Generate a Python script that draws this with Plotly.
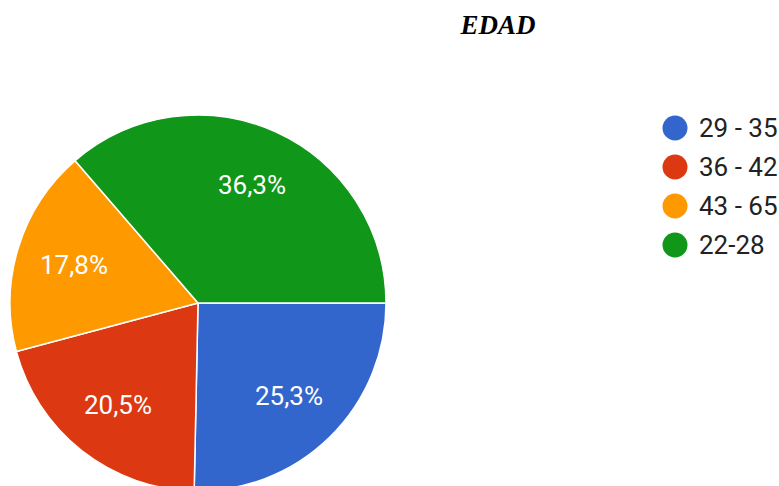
import math
import plotly.graph_objects as go

categories = ["29 - 35", "36 - 42", "43 - 65", "22-28"]
values = [25.3, 20.5, 17.8, 36.3]
colors = ["#3366CC", "#DC3912", "#FF9900", "#109618"]

W, H = 779, 492
cx, cy, r = 198, 303, 188

fig = go.Figure()
fig.add_trace(go.Pie(
    labels=categories, values=values, sort=False, direction="clockwise", rotation=90,
    marker=dict(colors=colors, line=dict(color="white", width=1.5)),
    textinfo="none", showlegend=False, hoverinfo="label+percent",
    domain=dict(x=[(cx - r) / W, (cx + r) / W], y=[(H - cy - r) / H, (H - cy + r) / H]),
))

# percentage labels at ~0.7 r along each slice's mid angle (clockwise from 3 o'clock)
total = sum(values)
cum = 0.0
for v in values:
    mid = (cum + v / 2) / total * 2 * math.pi
    cum += v
    px = cx + 0.69 * r * math.cos(mid)
    py = cy + 0.69 * r * math.sin(mid)
    fig.add_annotation(text=f"{v / total * 100:.1f}%".replace(".", ","), xref="paper", yref="paper",
                       x=px / W, y=1 - py / H, xanchor="center", yanchor="middle", showarrow=False,
                       font=dict(family="Roboto, Arial, sans-serif", size=26, color="white"))

# legend drawn as circles + labels
leg_x, leg_y0, leg_dy, dot_r = 675, 128, 39, 12.5
for i, (c, col) in enumerate(zip(categories, colors)):
    yc = leg_y0 + i * leg_dy
    fig.add_shape(type="circle", xref="paper", yref="paper",
                  x0=(leg_x - dot_r) / W, x1=(leg_x + dot_r) / W,
                  y0=1 - (yc + dot_r) / H, y1=1 - (yc - dot_r) / H,
                  fillcolor=col, line=dict(width=0))
    fig.add_annotation(text=c, xref="paper", yref="paper", x=(leg_x + 22) / W, y=1 - yc / H,
                       xanchor="left", yanchor="middle", showarrow=False,
                       font=dict(family="Roboto, Arial, sans-serif", size=26, color="#222222"))

fig.update_layout(
    width=W, height=H, margin=dict(l=0, r=0, t=0, b=0),
    paper_bgcolor="white", plot_bgcolor="white",
    showlegend=False,
    title=dict(text="<b><i>EDAD</i></b>", x=498 / W, xanchor="center", y=1 - 25 / H, yanchor="middle",
               font=dict(family="Liberation Serif, Times New Roman, serif", size=27, color="black")),
)
fig.write_html("out.html", config={"displayModeBar": False},
               post_script="document.body.style.margin='0';document.body.style.overflow='hidden';")
